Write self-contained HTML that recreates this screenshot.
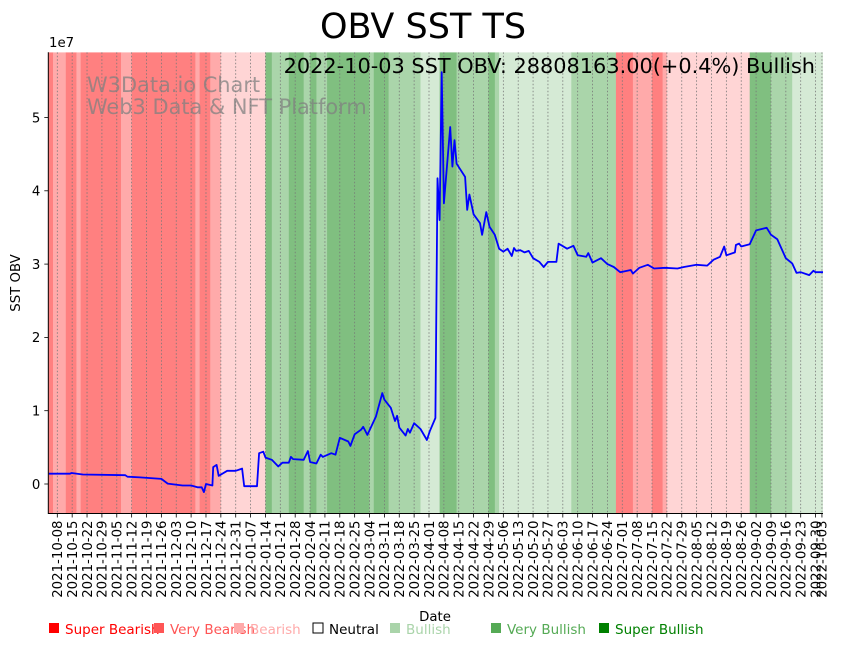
<!DOCTYPE html>
<html><head><meta charset="utf-8"><style>
body{margin:0;background:#fff;width:842px;height:646px;overflow:hidden;font-family:"Liberation Sans","DejaVu Sans",sans-serif}
svg text{font-family:"DejaVu Sans","Liberation Sans",sans-serif}
</style></head><body>
<svg id="c" width="842" height="646" xmlns="http://www.w3.org/2000/svg"></svg>
<script>
// day offsets from 2021-10-08
const bandStarts=[-5,-2,4,9,11,30,35,65,67,72,77,98,101,109,116,119,122,127,147,149,156,171,180,188,203,206,208,242,263,271,280,285,287,326,336,346];
const bandLevels=[-2,-1,-2,-1,-2,-1,-2,-1,-2,-1,-3,2,1,2,1,2,1,2,1,2,1,3,2,1,2,1,3,1,-2,-1,-2,-1,-3,2,1,3];
const bandEnd=361;
const obvDays=[-4,6,6.7,12,32,33,39,49,52,59,63,66,68,69,70,73,73.4,75,76,80,84,87,88,94,95,97,98,101,104,106,109,110,111,116,118,119,122,124,125,129,131,133,137,138,140,143,144,146,150,153,154,157,159,160,161,164,165,166,168,171,174,175.4,178,179,180,181,182,185,186,187,188,192,193,194,196,199,200,202,203.5,206,208,210,212,214,215,216,218,220,222,224,227,229,231,235,236,240,243,245,249,250,252,256,259,262,265,270,271,274,278,281,286,292,295,301,306,309,312,314,315,319,319.5,321,322,326,329,334,336,339,343,346,348,350,354,356,357,360.5];
const obvValues=[1.4,1.4,1.5,1.3,1.2,1.0,0.9,0.7,0.05,-0.2,-0.2,-0.45,-0.45,-1.1,0,-0.2,2.3,2.6,1.1,1.8,1.8,2.1,-0.3,-0.3,4.2,4.4,3.6,3.3,2.4,2.9,2.9,3.7,3.4,3.3,4.5,3.0,2.8,4.0,3.7,4.2,4.0,6.3,5.8,5.2,6.8,7.4,7.8,6.7,9.2,12.4,11.5,10.4,8.6,9.3,7.7,6.6,7.5,7.0,8.3,7.5,6.0,7.2,9.0,41.7,36,56.2,38.3,48.7,43.3,46.9,43.7,41.9,37.4,39.5,36.8,35.6,34.0,37.1,35.1,34.0,32.1,31.7,32.1,31.1,32.2,31.8,31.9,31.6,31.8,30.8,30.3,29.6,30.3,30.3,32.8,32.1,32.5,31.2,31.0,31.5,30.2,30.8,30.0,29.6,28.9,29.2,28.7,29.5,29.9,29.4,29.5,29.4,29.6,29.9,29.8,30.6,31.0,32.4,31.2,31.6,32.6,32.8,32.4,32.7,34.6,34.95,34.0,33.4,30.8,30.1,28.8,28.9,28.5,29.1,28.9,28.9];
const yTicks=[0,1,2,3,4,5];
const tickLabels=[];
const startDate=new Date(Date.UTC(2021,9,8));
for(let i=0;i<52;i++){const d=new Date(startDate.getTime()+i*7*864e5);tickLabels.push(d.toISOString().slice(0,10));}
tickLabels.push('2022-10-03');
const legendNames=['Super Bearish','Very Bearish','Bearish','Neutral','Bullish','Very Bullish','Super Bullish'];

const NS='http://www.w3.org/2000/svg';
const svg=document.getElementById('c');
const L=48.3,R=823,T=52.3,B=513.5;
const x=d=>57.3+d*2.124;
const y=v=>484-v*7.33;
function mk(t,a,p){const e=document.createElementNS(NS,t);for(const k in a)e.setAttribute(k,a[k]);(p||svg).appendChild(e);return e;}
const bandColor={'-3':'#ffd5d5','-2':'#ff8080','-1':'#ffaaaa','0':'#ffffff','1':'#aad5aa','2':'#80bf80','3':'#d5ead5'};
const clip=mk('clipPath',{id:'pc'});mk('rect',{x:L,y:T,width:R-L,height:B-T},clip);
const g=mk('g',{'clip-path':'url(#pc)'});
for(let i=0;i<bandStarts.length;i++){
  const s=bandStarts[i],e=i+1<bandStarts.length?bandStarts[i+1]:bandEnd;
  const r=mk('rect',{x:x(s),y:T,width:x(e)-x(s)+0.3,height:B-T,fill:bandColor[bandLevels[i]]},g);
  
  
}
tickLabels.forEach((t,i)=>{
  const d=i<52?i*7:360;
  const gl=mk('line',{x1:x(d),x2:x(d),y1:T,y2:B,stroke:'#777','stroke-width':0.8,'stroke-dasharray':'1.5,2'},g);
  
  
  mk('line',{x1:x(d),x2:x(d),y1:B,y2:B+4,stroke:'#000','stroke-width':0.8});
  const tx=mk('text',{x:0,y:0,'font-size':13.3,'text-anchor':'end',transform:`translate(${x(d)+4.8},${B+7}) rotate(-90)`});
  tx.textContent=t;
  
  
});
let dstr='';
obvDays.forEach((d,i)=>{dstr+=(i?'L':'M')+x(d).toFixed(1)+','+y(obvValues[i]).toFixed(1);});
const ln=mk('path',{d:dstr,fill:'none',stroke:'#0000ff','stroke-width':1.8,'stroke-linejoin':'round'},g);


yTicks.forEach(v=>{
  mk('line',{x1:L-4,x2:L,y1:y(v*10),y2:y(v*10),stroke:'#000','stroke-width':0.8});
  const t=mk('text',{x:L-8,y:y(v*10)+4.8,'font-size':13.3,'text-anchor':'end'});
  t.textContent=v;
  
  
});
const ax=mk('path',{d:`M${L},${T}V${B}H${R}`,fill:'none',stroke:'#000','stroke-width':1});


function txt(s,a,name){const t=mk('text',a);t.textContent=s;return t;}
txt('1e7',{x:49,y:47,'font-size':13.3},'y-offset-label');
txt('OBV SST TS',{x:423,y:38,'font-size':35,'text-anchor':'middle'},'chart-title');
txt('2022-10-03 SST OBV: 28808163.00(+0.4%) Bullish',{x:815,y:73,'font-size':20.85,'text-anchor':'end'},'latest-value-annotation');
txt('W3Data.io Chart',{x:87,y:92,'font-size':20.9,fill:'#808080','fill-opacity':0.75},'watermark-title');
txt('Web3 Data & NFT Platform',{x:87,y:114,'font-size':20.9,fill:'#808080','fill-opacity':0.75},'watermark-subtitle');
txt('SST OBV',{x:0,y:0,'font-size':13.3,'text-anchor':'middle',transform:'translate(20,283) rotate(-90)'},'y-axis-title');
txt('Date',{x:435,y:621,'font-size':13.3,'text-anchor':'middle'},'x-axis-title');
const legX=[48,153,233,312,389,490,598];
const legC=['#ff0000','#ff5555','#ffaaaa','#ffffff','#aad4aa','#55aa55','#008000'];
const legT=['#ff0000','#ff5555','#ffaaaa','#000000','#aad4aa','#55aa55','#008000'];
legendNames.forEach((n,i)=>{
  const r=mk('rect',{x:legX[i]+1,y:623,width:10,height:10,fill:legC[i],stroke:i==3?'#000':'none','stroke-width':1});
  
  
  txt(n,{x:legX[i]+17,y:634,'font-size':13.5,fill:legT[i]},'legend-entry');
});
</script>
</body></html>
